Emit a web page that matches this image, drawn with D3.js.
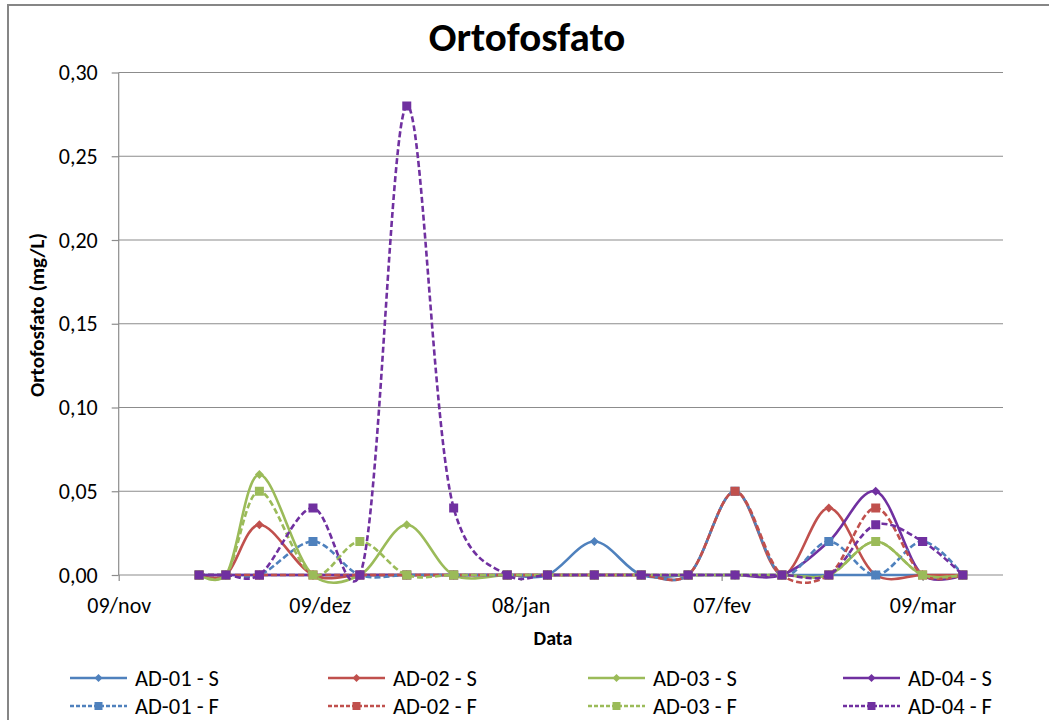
<!DOCTYPE html>
<html>
<head>
<meta charset="utf-8">
<script src="https://cdn.jsdelivr.net/npm/d3@7/dist/d3.min.js"></script>
<style>
  html, body { margin: 0; padding: 0; background: #fff; }
  svg { display: block; }
  text { font-family: Carlito, Calibri, Lato, "Open Sans", sans-serif; fill: #000; }
</style>
</head>
<body>
<svg id="chart" width="1049" height="720"></svg>
<script>
// Sampling dates (weekly campaigns, Nov 2013 – Mar 2014)
const sampleDates = [
  "2013-11-21", "2013-11-25", "2013-11-30", "2013-12-08", "2013-12-15", "2013-12-22",
  "2013-12-29", "2014-01-06", "2014-01-12", "2014-01-19", "2014-01-26", "2014-02-02",
  "2014-02-09", "2014-02-16", "2014-02-23", "2014-03-02", "2014-03-09", "2014-03-15"
];

// Orthophosphate (mg/L) per sampling point – S and F samples
const ad01S = [0, 0, 0, 0, 0, 0, 0, 0, 0, 0.02, 0, 0, 0, 0, 0, 0, 0, 0];
const ad02S = [0, 0, 0.03, 0, 0, 0, 0, 0, 0, 0, 0, 0, 0.05, 0, 0.04, 0, 0, 0];
const ad03S = [0, 0, 0.06, 0, 0, 0.03, 0, 0, 0, 0, 0, 0, 0, 0, 0, 0.02, 0, 0];
const ad04S = [0, 0, 0, 0, 0, 0, 0, 0, 0, 0, 0, 0, 0, 0, 0.02, 0.05, 0, 0];
const ad01F = [0, 0, 0, 0.02, 0, 0, 0, 0, 0, 0, 0, 0, 0.05, 0, 0.02, 0, 0.02, 0];
const ad02F = [0, 0, 0, 0, 0, 0, 0, 0, 0, 0, 0, 0, 0.05, 0, 0, 0.04, 0, 0];
const ad03F = [0, 0, 0.05, 0, 0.02, 0, 0, 0, 0, 0, 0, 0, 0, 0, 0, 0.02, 0, 0];
const ad04F = [0, 0, 0, 0.04, 0, 0.28, 0.04, 0, 0, 0, 0, 0, 0, 0, 0, 0.03, 0.02, 0];

const seriesNames = ["AD-01 - S", "AD-02 - S", "AD-03 - S", "AD-04 - S",
                     "AD-01 - F", "AD-02 - F", "AD-03 - F", "AD-04 - F"];
const seriesValues = [ad01S, ad02S, ad03S, ad04S, ad01F, ad02F, ad03F, ad04F];

// Axis ticks
const xTickDates = ["2013-11-09", "2013-12-09", "2014-01-08", "2014-02-07", "2014-03-09"];
const xTickLabels = ["09/nov", "09/dez", "08/jan", "07/fev", "09/mar"];
const yTickValues = [0, 0.05, 0.10, 0.15, 0.20, 0.25, 0.30];
const yTickLabels = ["0,00", "0,05", "0,10", "0,15", "0,20", "0,25", "0,30"];

const chartTitle = "Ortofosfato";
const xTitle = "Data";
const yTitle = "Ortofosfato (mg/L)";

// ---- styling ----
const pointColors = ["#4F81BD", "#C0504D", "#9BBB59", "#7030A0"];
const gridColor = "#8c8c8c";

const parse = d3.utcParse("%Y-%m-%d");
const dates = sampleDates.map(parse);

const svg = d3.select("#chart");

// outer chart frame
svg.append("rect")
  .attr("x", 8).attr("y", 5)
  .attr("width", 1100).attr("height", 800)
  .attr("fill", "#fff")
  .attr("stroke", "#868686").attr("stroke-width", 2);

const plot = { left: 118.7, right: 1003, top: 72.5, bottom: 575 };

const xStart = parse("2013-11-09");
const xEnd = d3.utcDay.offset(xStart, 132);
const x = d3.scaleUtc().domain([xStart, xEnd]).range([plot.left, plot.right]);
const y = d3.scaleLinear().domain([0, 0.30]).range([plot.bottom, plot.top]);

// horizontal gridlines
svg.append("g")
  .selectAll("line")
  .data(yTickValues.filter(v => v > 0))
  .join("line")
  .attr("x1", plot.left).attr("x2", plot.right)
  .attr("y1", d => y(d)).attr("y2", d => y(d))
  .attr("stroke", gridColor).attr("stroke-width", 1.2);

// y axis
const yAxis = d3.axisLeft(y)
  .tickValues(yTickValues)
  .tickFormat((d, i) => yTickLabels[i])
  .tickSize(7).tickPadding(14);
const gy = svg.append("g").attr("transform", `translate(${plot.left},0)`).call(yAxis);
gy.select(".domain").attr("stroke", gridColor).attr("stroke-width", 1.2)
  .attr("d", `M0,${plot.top}V${plot.bottom}`);
gy.selectAll(".tick line").attr("stroke", gridColor).attr("stroke-width", 1.2);
gy.selectAll(".tick text").style("font-size", "22px").attr("fill", "#000");

// x axis
const xAxis = d3.axisBottom(x)
  .tickValues(xTickDates.map(parse))
  .tickFormat((d, i) => xTickLabels[i])
  .tickSize(6).tickPadding(16);
const gx = svg.append("g").attr("transform", `translate(0,${plot.bottom})`).call(xAxis);
gx.select(".domain").attr("stroke", gridColor).attr("stroke-width", 1.2)
  .attr("d", `M${plot.left},0H${plot.right}`);
gx.selectAll(".tick line").attr("stroke", gridColor).attr("stroke-width", 1.2);
gx.selectAll(".tick text").style("font-size", "22px").attr("fill", "#000");

// titles
svg.append("text")
  .attr("x", 527).attr("y", 51)
  .attr("text-anchor", "middle")
  .style("font-size", "41px").style("font-weight", "bold")
  .text(chartTitle);

svg.append("text")
  .attr("x", 553).attr("y", 645)
  .attr("text-anchor", "middle")
  .style("font-size", "20px").style("font-weight", "bold")
  .text(xTitle);

svg.append("text")
  .attr("transform", "translate(44,315) rotate(-90)")
  .attr("text-anchor", "middle")
  .style("font-size", "21px").style("font-weight", "bold")
  .text(yTitle);

// series (smoothed lines; a low Catmull–Rom alpha keeps peaks round with little overshoot)
const line = d3.line()
  .x((d, i) => x(dates[i]))
  .y(d => y(d))
  .curve(d3.curveCatmullRom.alpha(0.2));

const diamond = s => `M0,${-s}L${s},0L0,${s}L${-s},0Z`;

const seriesG = svg.append("g");
seriesValues.forEach((vals, k) => {
  const color = pointColors[k % 4];
  const dashed = k >= 4;
  const g = seriesG.append("g");
  g.append("path")
    .attr("d", line(vals))
    .attr("fill", "none")
    .attr("stroke", color)
    .attr("stroke-width", 2.6)
    .attr("stroke-dasharray", dashed ? "6,3" : null)
    .attr("stroke-linejoin", "round");
  if (dashed) {
    g.selectAll("rect")
      .data(vals)
      .join("rect")
      .attr("x", (d, i) => x(dates[i]) - 4.5)
      .attr("y", d => y(d) - 4.5)
      .attr("width", 9).attr("height", 9)
      .attr("fill", color);
  } else {
    g.selectAll("path.mk")
      .data(vals)
      .join("path")
      .attr("class", "mk")
      .attr("transform", (d, i) => `translate(${x(dates[i])},${y(d)})`)
      .attr("d", diamond(4.5))
      .attr("fill", color);
  }
});

// legend
const legendCols = [70, 328, 588, 843];
const legendRows = [678, 706];
const leg = svg.append("g");
seriesNames.forEach((name, k) => {
  const color = pointColors[k % 4];
  const dashed = k >= 4;
  const lx = legendCols[k % 4];
  const ly = legendRows[Math.floor(k / 4)];
  const g = leg.append("g").attr("transform", `translate(${lx},${ly})`);
  g.append("line")
    .attr("x1", 0).attr("x2", 57).attr("y1", 0).attr("y2", 0)
    .attr("stroke", color).attr("stroke-width", 2.5)
    .attr("stroke-dasharray", dashed ? "4,2" : null);
  if (dashed) {
    g.append("rect").attr("x", 24.5).attr("y", -4).attr("width", 8).attr("height", 8).attr("fill", color);
  } else {
    g.append("path").attr("transform", "translate(28.5,0)").attr("d", diamond(4)).attr("fill", color);
  }
  g.append("text")
    .attr("x", 65).attr("y", 0).attr("dy", "0.35em")
    .style("font-size", "22.5px")
    .text(name);
});
</script>
</body>
</html>
